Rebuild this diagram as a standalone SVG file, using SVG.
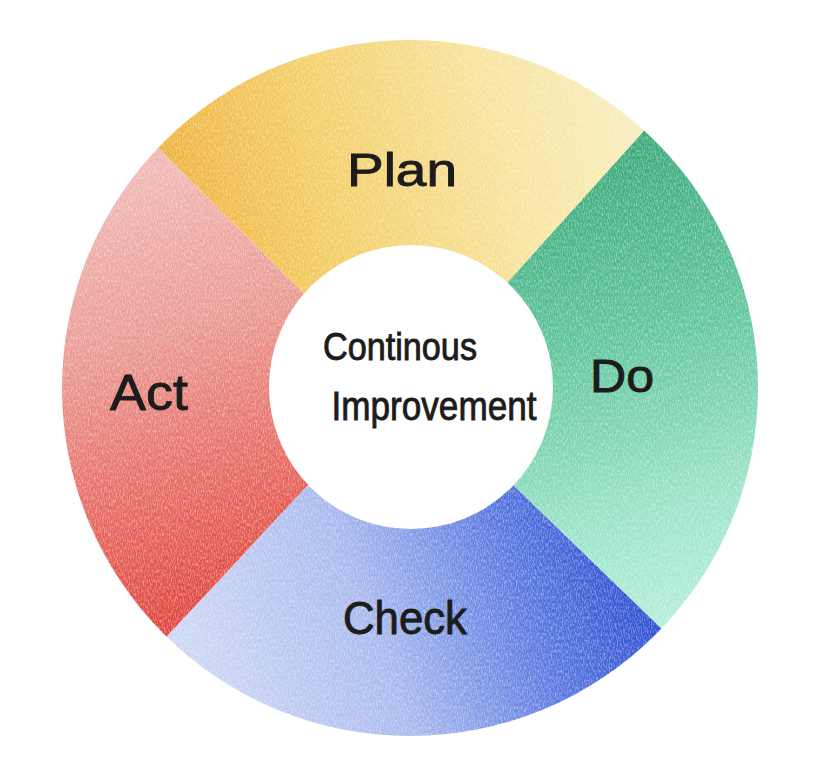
<svg xmlns="http://www.w3.org/2000/svg" width="818" height="766" viewBox="0 0 818 766">
  <style>
    .lbl { font-family: "Liberation Sans", Arial, sans-serif; fill: #1c1c1c; stroke: #1c1c1c; stroke-width: 0.9; text-anchor: middle; }
  </style>
  <defs>
    <clipPath id="outer">
      <circle cx="410" cy="388" r="348"/>
    </clipPath>
    <linearGradient id="gPlan" gradientUnits="userSpaceOnUse" x1="170" y1="230" x2="640" y2="120">
      <stop offset="0" stop-color="#eeb13a"/>
      <stop offset="0.35" stop-color="#f4cf68"/>
      <stop offset="0.7" stop-color="#f8e39c"/>
      <stop offset="1" stop-color="#f8eebd"/>
    </linearGradient>
    <linearGradient id="gDo" gradientUnits="userSpaceOnUse" x1="560" y1="150" x2="680" y2="620">
      <stop offset="0" stop-color="#37a878"/>
      <stop offset="0.4" stop-color="#5fc59b"/>
      <stop offset="0.75" stop-color="#98e2c6"/>
      <stop offset="1" stop-color="#b4eedb"/>
    </linearGradient>
    <linearGradient id="gCheck" gradientUnits="userSpaceOnUse" x1="200" y1="680" x2="620" y2="520">
      <stop offset="0" stop-color="#cdd7f5"/>
      <stop offset="0.4" stop-color="#a9b9ef"/>
      <stop offset="0.75" stop-color="#5676e0"/>
      <stop offset="1" stop-color="#2c4dd0"/>
    </linearGradient>
    <linearGradient id="gAct" gradientUnits="userSpaceOnUse" x1="130" y1="180" x2="260" y2="600">
      <stop offset="0" stop-color="#f0b7b3"/>
      <stop offset="0.35" stop-color="#eb9a94"/>
      <stop offset="0.7" stop-color="#e76a62"/>
      <stop offset="1" stop-color="#e0453d"/>
    </linearGradient>
    <filter id="grain" x="0" y="0" width="1" height="1">
      <feTurbulence type="fractalNoise" baseFrequency="0.85 0.3" numOctaves="2" seed="7"/>
      <feColorMatrix type="matrix" values="0 0 0 0 1  0 0 0 0 1  0 0 0 0 1  2.6 0 0 0 -1.05"/>
    </filter>
  </defs>

  <rect width="818" height="766" fill="#ffffff"/>

  <g clip-path="url(#outer)">
    <g id="plan">
      <polygon fill="url(#gPlan)" points="411,387 303,293 57,47 57,-20 733,-20 733,32 508,282"/>
    </g>
    <g id="do">
      <polygon fill="url(#gDo)" points="411,387 508,282 733,32 840,32 840,724 760,724 515,487"/>
    </g>
    <g id="check">
      <polygon fill="url(#gCheck)" points="411,387 515,487 760,724 760,800 68,800 68,742 308,485"/>
    </g>
    <g id="act">
      <polygon fill="url(#gAct)" points="411,387 308,485 68,742 -20,742 -20,47 57,47 303,293"/>
    </g>
    <rect x="50" y="30" width="720" height="720" filter="url(#grain)" opacity="0.4"/>
  </g>

  <g id="center">
    <circle cx="411" cy="387" r="142" fill="#ffffff"/>
    <text class="lbl" x="400" y="360" font-size="39" textLength="154" lengthAdjust="spacingAndGlyphs">Continous</text>
    <text class="lbl" x="434" y="420" font-size="41" textLength="205" lengthAdjust="spacingAndGlyphs">Improvement</text>
  </g>

  <g id="labels">
    <text class="lbl" x="402" y="186" font-size="46" textLength="110" lengthAdjust="spacingAndGlyphs">Plan</text>
    <text class="lbl" x="622" y="392" font-size="46" textLength="64" lengthAdjust="spacingAndGlyphs">Do</text>
    <text class="lbl" x="405" y="634" font-size="46" textLength="124" lengthAdjust="spacingAndGlyphs">Check</text>
    <text class="lbl" x="149" y="410" font-size="50" textLength="78" lengthAdjust="spacingAndGlyphs">Act</text>
  </g>
</svg>
